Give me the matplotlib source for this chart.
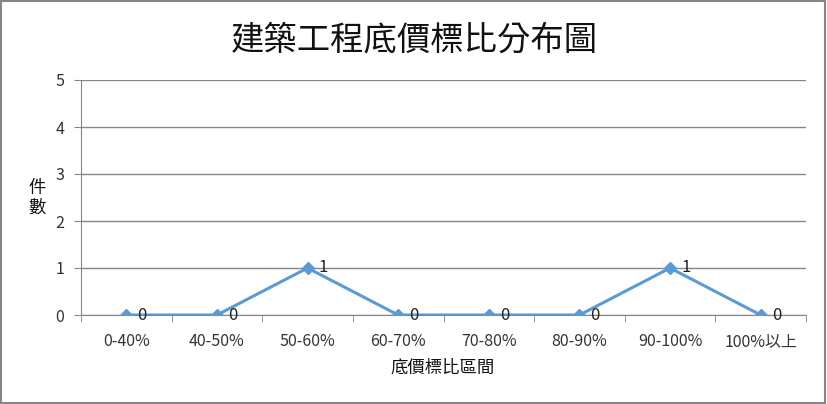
import matplotlib
matplotlib.use("Agg")
import matplotlib.pyplot as plt
from matplotlib.patches import Rectangle

plt.rcParams['font.family'] = ['Noto Sans CJK TC', 'DejaVu Sans']

categories = ["0-40%", "40-50%", "50-60%", "60-70%", "70-80%", "80-90%", "90-100%", "100%以上"]
counts = [0, 0, 1, 0, 0, 0, 1, 0]
title = "建築工程底價標比分布圖"
xlabel = "底價標比區間"
ylabel = "件\n數"

fig = plt.figure(figsize=(8.27, 4.04), dpi=100)
ax = fig.add_axes([81/827, 1-315/404, (806-81)/827, (315-80)/404])

x = list(range(len(categories)))
line_color = "#5B9BD5"
ax.plot(x, counts, color=line_color, linewidth=2.2, marker="D", markersize=6, zorder=3)
for xi, v in zip(x, counts):
    ax.annotate(str(v), (xi, v), xytext=(8, 0), textcoords="offset points",
                va="center", ha="left", fontsize=12, color="#222222")

ax.set_xlim(-0.5, len(categories) - 0.5)
ax.set_ylim(0, 5)
ax.set_yticks(range(0, 6))
ax.set_yticklabels([str(i) for i in range(6)], fontsize=11.5, color="#333333")
ax.set_xticks(x)
ax.set_xticklabels(categories, fontsize=11.5, color="#333333")
ax.set_xticks([i - 0.5 for i in range(len(categories) + 1)], minor=True)
ax.tick_params(axis="x", which="major", length=0, pad=13)
ax.tick_params(axis="x", which="minor", length=5, color="#868686", direction="out")
ax.tick_params(axis="y", length=5, color="#868686", pad=7)
ax.grid(axis="y", color="#868686", linewidth=1)
ax.set_axisbelow(True)
for s in ["top", "right"]:
    ax.spines[s].set_visible(False)
for s in ["left", "bottom"]:
    ax.spines[s].set_color("#868686")

fig.text(414/827, 1-40/404, title, ha="center", va="center", fontsize=24, color="#111111")
fig.text(443/827, 1-368/404, xlabel, ha="center", va="center", fontsize=12.5, color="#111111")
fig.text(37/827, 1-198/404, ylabel, ha="center", va="center", fontsize=12.5, color="#111111", linespacing=1.1)

fig.patches.append(Rectangle((0.001, 0.002), 0.997, 0.995, transform=fig.transFigure,
                             fill=False, edgecolor="#868686", linewidth=1.5))

fig.savefig("out.png", dpi=100)
